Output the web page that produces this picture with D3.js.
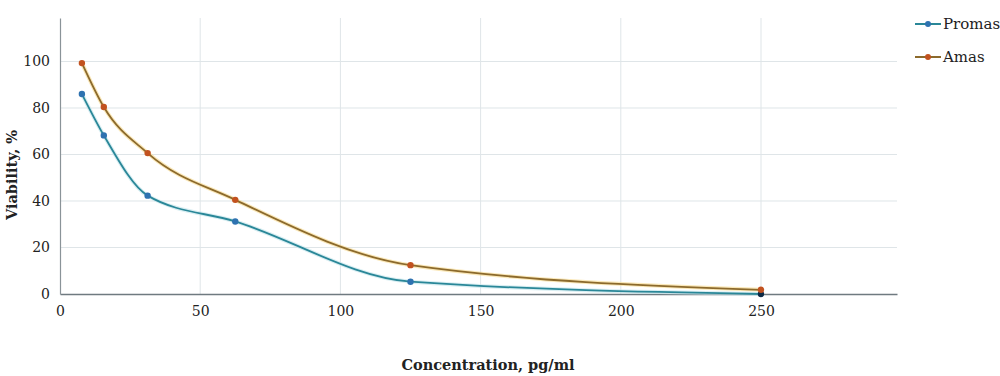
<!DOCTYPE html>
<html>
<head>
<meta charset="utf-8">
<script src="https://cdn.jsdelivr.net/npm/d3@7"></script>
<style>
body{margin:0;background:#fff}
svg{display:block}
</style>
</head>
<body>
<div id="chartDiv"></div>
<script>
//---data---
var Concentration=[7.8125,15.625,31.25,62.5,125,250]
var PromasValues=[86,68.2,42.3,31.2,5.3,0]
var AmasValues=[99.3,80.4,60.6,40.5,12.4,1.8]
var SeriesNames=["Promas","Amas"]
var XTicks=[0,50,100,150,200,250]
var YTicks=[0,20,40,60,80,100]

var Width=1000
var Height=376
var Serif="'DejaVu Serif', 'Liberation Serif', serif"

var ChartSVG=d3.select("#chartDiv").append("svg")
  .attr("width",Width).attr("height",Height)
  .attr("viewBox","0 0 "+Width+" "+Height)

var X=d3.scaleLinear().domain([0,298.5]).range([60,897])
var Y=d3.scaleLinear().domain([0,118.7]).range([294,18])

//---grid---
var GridG=ChartSVG.append("g").attr("id","gridG")
GridG.selectAll(".vgrid").data(XTicks.slice(1)).enter().append("line")
  .attr("x1",d=>X(d)).attr("x2",d=>X(d))
  .attr("y1",Y.range()[1]).attr("y2",Y(0))
  .attr("stroke","#dfe5e8").attr("stroke-width",1)
GridG.selectAll(".hgrid").data(YTicks.slice(1)).enter().append("line")
  .attr("x1",X(0)).attr("x2",X.range()[1])
  .attr("y1",d=>Y(d)).attr("y2",d=>Y(d))
  .attr("stroke","#dfe5e8").attr("stroke-width",1)

//---axes---
var XAxis=d3.axisBottom(X).tickValues(XTicks).tickSize(0).tickPadding(12)
var YAxis=d3.axisLeft(Y).tickValues(YTicks).tickSize(0).tickPadding(10)

var XAxisG=ChartSVG.append("g").attr("transform","translate(0,"+Y(0)+")").call(XAxis)
XAxisG.select(".domain").attr("stroke","#6f7a80").attr("stroke-width",1.5)
XAxisG.selectAll("text").attr("font-family",Serif).attr("font-size","14px").attr("fill","#222")

var YAxisG=ChartSVG.append("g").attr("transform","translate("+X(0)+",0)").call(YAxis)
YAxisG.select(".domain").attr("stroke","#8a9398").attr("stroke-width",1.2)
YAxisG.selectAll("text").attr("font-family",Serif).attr("font-size","14px").attr("fill","#222")

//---titles---
ChartSVG.append("text")
  .attr("x",488).attr("y",370)
  .attr("text-anchor","middle")
  .attr("font-family",Serif).attr("font-weight","bold").attr("font-size","14.5px")
  .attr("fill","#222")
  .text("Concentration, pg/ml")

ChartSVG.append("text")
  .attr("transform","translate(17,175) rotate(-90)")
  .attr("text-anchor","middle")
  .attr("font-family",Serif).attr("font-weight","bold").attr("font-size","14.5px")
  .attr("fill","#222")
  .text("Viability, %")

//---series---
var Series=[
  {name:SeriesNames[0],values:PromasValues,line:"#2a8798",halo:"#bfe3ea",dot:"#2e72b0"},
  {name:SeriesNames[1],values:AmasValues,line:"#8c6a2c",halo:"#f6d98a",dot:"#c2521f"}
]

var Line=d3.line()
  .x(d=>X(d[0])).y(d=>Y(d[1]))
  .curve(d3.curveMonotoneX)

var SeriesG=ChartSVG.append("g").attr("id","seriesG")
Series.forEach(function(s){
  var pts=Concentration.map((c,i)=>[c,s.values[i]])
  SeriesG.append("path")
    .attr("d",Line(pts))
    .attr("fill","none")
    .attr("stroke",s.halo)
    .attr("stroke-width",4)
    .attr("stroke-opacity",0.6)
  SeriesG.append("path")
    .attr("d",Line(pts))
    .attr("fill","none")
    .attr("stroke",s.line)
    .attr("stroke-width",1.8)
  SeriesG.selectAll(null).data(pts).enter().append("circle")
    .attr("cx",d=>X(d[0])).attr("cy",d=>Y(d[1]))
    .attr("r",3.2)
    .attr("fill",(d,i)=> (s.name=="Promas" && d[1]==0) ? "#0d2a45" : s.dot)
})

//---legend---
var LegendG=ChartSVG.append("g").attr("id","legendG")
Series.forEach(function(s,i){
  var ly=24+i*33
  LegendG.append("line")
    .attr("x1",915).attr("x2",941).attr("y1",ly).attr("y2",ly)
    .attr("stroke",s.line).attr("stroke-width",2)
  LegendG.append("circle")
    .attr("cx",928).attr("cy",ly).attr("r",3)
    .attr("fill",s.dot)
  LegendG.append("text")
    .attr("x",943).attr("y",ly+5)
    .attr("font-family",Serif).attr("font-size","15px")
    .attr("fill","#222")
    .text(s.name)
})
</script>
</body>
</html>
